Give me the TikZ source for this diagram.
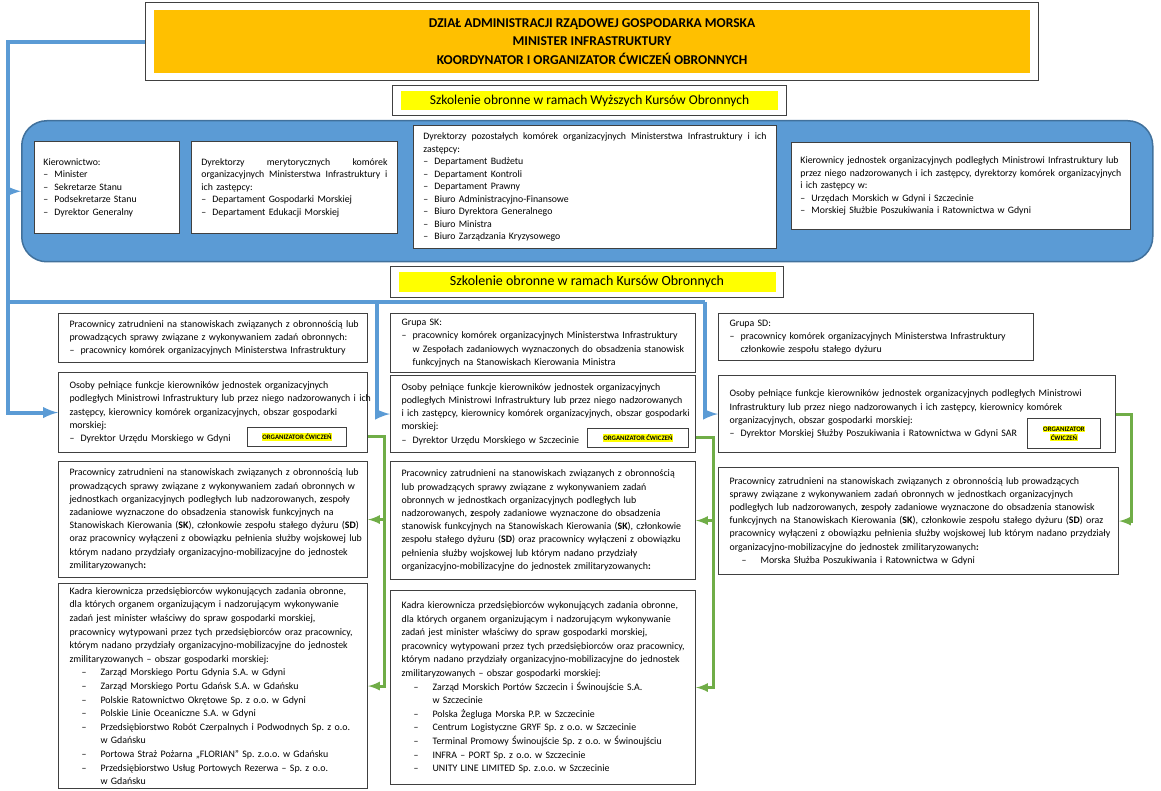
\documentclass[tikz,border=0pt]{standalone}
\usepackage{fontspec}
\setmainfont{Carlito}
\definecolor{orangefill}{HTML}{FFC000}
\definecolor{bluefill}{HTML}{5B9BD5}
\definecolor{blueedge}{HTML}{41719C}
\definecolor{greenline}{HTML}{70AD47}
\definecolor{boxedge}{HTML}{404040}
\definecolor{marker}{HTML}{FFFF00}
\newcommand\lidash{\makebox[11pt][l]{–}}
\newcommand\kdash{\hspace*{12pt}\makebox[19pt][l]{–}}
\newcommand\jline[1]{\makebox[\linewidth][s]{\spaceskip=0.23em plus 1fil\relax #1}}
\newcommand\orgmark[1]{{\setlength\fboxsep{0.7pt}\colorbox{marker}{#1}}}
\frenchspacing
\begin{document}
\begin{tikzpicture}[x=1pt, y=-1pt,
    text box/.style={draw=boxedge, line width=1.1pt, fill=white, anchor=north west, align=left, inner xsep=11pt, inner ysep=0pt, font=\fontsize{9.9}{13.2}\selectfont, execute at begin node={\rightskip=-24pt plus 1fil\relax}},
    blue text/.style={text box, line width=0.9pt, font=\fontsize{9.8}{12.5}\selectfont},
    frame box/.style={draw=boxedge, line width=1.1pt, fill=white, anchor=north west, inner sep=0pt},
    org box/.style={draw=boxedge, line width=0.9pt, fill=white, anchor=north west, inner sep=0pt, align=center, font=\fontsize{6.8}{9}\selectfont\bfseries},
    blue line/.style={draw=bluefill, line width=4pt},
    green line/.style={draw=greenline, line width=3pt}]
    \useasboundingbox (0,0) rectangle (1161,791);
    \node[frame box, minimum width=893pt, minimum height=78pt] (1) at (145,2) {};
    \node[fill=orangefill, minimum width=876pt, minimum height=63pt, inner sep=0pt, align=center, font=\fontsize{13.5}{18.5}\selectfont\bfseries] (2) at (1.center) {DZIAŁ ADMINISTRACJI RZĄDOWEJ GOSPODARKA MORSKA\\ MINISTER INFRASTRUKTURY\\ KOORDYNATOR I ORGANIZATOR ĆWICZEŃ OBRONNYCH};
    \node[frame box, minimum width=394pt, minimum height=30pt] (3) at (392,85) {};
    \node[fill=marker, minimum width=377pt, minimum height=19pt, inner sep=0pt, font=\fontsize{13.5}{16}\selectfont] (4) at (3.center) {Szkolenie obronne w ramach Wyższych Kursów Obronnych};
    \node[draw=blueedge, line width=1.5pt, fill=bluefill, rounded corners=25pt, anchor=north west, minimum width=1131pt, minimum height=141pt] (5) at (21,120) {};
    \node[blue text, inner xsep=9pt, text width=127pt, minimum height=92pt] (6) at (34,141) {Kierownictwo:\\ \lidash Minister\\ \lidash Sekretarze Stanu\\ \lidash Podsekretarze Stanu\\ \lidash Dyrektor Generalny};
    \node[blue text, inner xsep=10pt, text width=186pt, minimum height=92pt] (7) at (191,141) {\jline{Dyrektorzy merytorycznych komórek}\\ \jline{organizacyjnych Ministerstwa Infrastruktury i}\\ ich zastępcy:\\ \lidash Departament Gospodarki Morskiej\\ \lidash Departament Edukacji Morskiej};
    \node[blue text, inner xsep=10pt, text width=343pt, minimum height=123pt] (8) at (413,125) {\jline{Dyrektorzy pozostałych komórek organizacyjnych Ministerstwa Infrastruktury i ich}\\ zastępcy:\\ \lidash Departament Budżetu\\ \lidash Departament Kontroli\\ \lidash Departament Prawny\\ \lidash Biuro Administracyjno-Finansowe\\ \lidash Biuro Dyrektora Generalnego\\ \lidash Biuro Ministra\\ \lidash Biuro Zarządzania Kryzysowego};
    \node[blue text, inner xsep=9pt, text width=321pt, minimum height=87pt] (9) at (791,142) {Kierownicy jednostek organizacyjnych podległych Ministrowi Infrastruktury lub\\ przez niego nadzorowanych i ich zastępcy, dyrektorzy komórek organizacyjnych\\ i ich zastępcy w:\\ \lidash Urzędach Morskich w Gdyni i Szczecinie\\ \lidash Morskiej Służbie Poszukiwania i Ratownictwa w Gdyni};
    \node[frame box, minimum width=393pt, minimum height=31pt] (10) at (390,266) {};
    \node[fill=marker, minimum width=377pt, minimum height=20pt, inner sep=0pt, font=\fontsize{14}{16}\selectfont] (11) at (10.center) {Szkolenie obronne w ramach Kursów Obronnych};
    \node[text box, text width=287pt, minimum height=49pt] (12) at (58,313) {Pracownicy zatrudnieni na stanowiskach związanych z obronnością lub\\ prowadzących sprawy związane z wykonywaniem zadań obronnych:\\ \lidash pracownicy komórek organizacyjnych Ministerstwa Infrastruktury};
    \node[text box, text width=287pt, minimum height=80pt] (13) at (58,372) {Osoby pełniące funkcje kierowników jednostek organizacyjnych\\ podległych Ministrowi Infrastruktury lub przez niego nadzorowanych i ich\\ zastępcy, kierownicy komórek organizacyjnych, obszar gospodarki\\ morskiej:\\ \lidash Dyrektor Urzędu Morskiego w Gdyni};
    \node[org box, minimum width=99pt, minimum height=19pt] (14) at (247,427) {\orgmark{ORGANIZATOR ĆWICZEŃ}};
    \node[text box, text width=287pt, minimum height=116pt] (15) at (58,461) {Pracownicy zatrudnieni na stanowiskach związanych z obronnością lub\\ prowadzących sprawy związane z wykonywaniem zadań obronnych w\\ jednostkach organizacyjnych podległych lub nadzorowanych, \textbf{z}espoły\\ zadaniowe wyznaczone do obsadzenia stanowisk funkcyjnych na\\ Stanowiskach Kierowania (\textbf{SK}), członkowie zespołu stałego dyżuru (\textbf{SD})\\ oraz pracownicy wyłączeni z obowiązku pełnienia służby wojskowej lub\\ którym nadano przydziały organizacyjno-mobilizacyjne do jednostek\\ zmilitaryzowanych\textbf{:}};
    \node[text box, text width=287pt, minimum height=205pt, font=\fontsize{9.9}{13.6}\selectfont] (16) at (58,583) {Kadra kierownicza przedsiębiorców wykonujących zadania obronne,\\ dla których organem organizującym i nadzorującym wykonywanie\\ zadań jest minister właściwy do spraw gospodarki morskiej,\\ pracownicy wytypowani przez tych przedsiębiorców oraz pracownicy,\\ którym nadano przydziały organizacyjno-mobilizacyjne do jednostek\\ zmilitaryzowanych – obszar gospodarki morskiej:\\ \kdash Zarząd Morskiego Portu Gdynia S.A. w Gdyni\\ \kdash Zarząd Morskiego Portu Gdańsk S.A. w Gdańsku\\ \kdash Polskie Ratownictwo Okrętowe Sp. z o.o. w Gdyni\\ \kdash Polskie Linie Oceaniczne S.A. w Gdyni\\ \kdash Przedsiębiorstwo Robót Czerpalnych i Podwodnych Sp. z o.o.\\ \hspace*{31pt}w Gdańsku\\ \kdash Portowa Straż Pożarna „FLORIAN” Sp. z.o.o. w Gdańsku\\ \kdash Przedsiębiorstwo Usług Portowych Rezerwa – Sp. z o.o.\\ \hspace*{31pt}w Gdańsku};
    \node[text box, text width=283pt, minimum height=59pt] (17) at (390,313) {Grupa SK:\\ \lidash pracownicy komórek organizacyjnych Ministerstwa Infrastruktury\\ \hspace*{11pt}w Zespołach zadaniowych wyznaczonych do obsadzenia stanowisk\\ \hspace*{11pt}funkcyjnych na Stanowiskach Kierowania Ministra};
    \node[text box, text width=283pt, minimum height=77pt] (18) at (390,375) {Osoby pełniące funkcje kierowników jednostek organizacyjnych\\ podległych Ministrowi Infrastruktury lub przez niego nadzorowanych\\ i ich zastępcy, kierownicy komórek organizacyjnych, obszar gospodarki\\ morskiej:\\ \lidash Dyrektor Urzędu Morskiego w Szczecinie};
    \node[org box, minimum width=101pt, minimum height=19pt] (19) at (587,428) {\orgmark{ORGANIZATOR ĆWICZEŃ}};
    \node[text box, text width=283pt, minimum height=118pt] (20) at (390,461) {Pracownicy zatrudnieni na stanowiskach związanych z obronnością\\ lub prowadzących sprawy związane z wykonywaniem zadań\\ obronnych w jednostkach organizacyjnych podległych lub\\ nadzorowanych, \textbf{z}espoły zadaniowe wyznaczone do obsadzenia\\ stanowisk funkcyjnych na Stanowiskach Kierowania (\textbf{SK}), członkowie\\ zespołu stałego dyżuru (\textbf{SD}) oraz pracownicy wyłączeni z obowiązku\\ pełnienia służby wojskowej lub którym nadano przydziały\\ organizacyjno-mobilizacyjne do jednostek zmilitaryzowanych\textbf{:}};
    \node[text box, text width=283pt, minimum height=194pt, font=\fontsize{9.9}{13.6}\selectfont] (21) at (390,590) {Kadra kierownicza przedsiębiorców wykonujących zadania obronne,\\ dla których organem organizującym i nadzorującym wykonywanie\\ zadań jest minister właściwy do spraw gospodarki morskiej,\\ pracownicy wytypowani przez tych przedsiębiorców oraz pracownicy,\\ którym nadano przydziały organizacyjno-mobilizacyjne do jednostek\\ zmilitaryzowanych – obszar gospodarki morskiej:\\ \kdash Zarząd Morskich Portów Szczecin i Świnoujście S.A.\\ \hspace*{31pt}w Szczecinie\\ \kdash Polska Żegluga Morska P.P. w Szczecinie\\ \kdash Centrum Logistyczne GRYF Sp. z o.o. w Szczecinie\\ \kdash Terminal Promowy Świnoujście Sp. z o.o. w Świnoujściu\\ \kdash INFRA – PORT Sp. z o.o. w Szczecinie\\ \kdash UNITY LINE LIMITED Sp. z.o.o. w Szczecinie};
    \node[text box, text width=293pt, minimum height=47pt] (22) at (718,313) {Grupa SD:\\ \lidash pracownicy komórek organizacyjnych Ministerstwa Infrastruktury\\ \hspace*{11pt}członkowie zespołu stałego dyżuru};
    \node[text box, text width=375pt, minimum height=77pt] (23) at (718,375) {Osoby pełniące funkcje kierowników jednostek organizacyjnych podległych Ministrowi\\ Infrastruktury lub przez niego nadzorowanych i ich zastępcy, kierownicy komórek\\ organizacyjnych, obszar gospodarki morskiej:\\ \lidash Dyrektor Morskiej Służby Poszukiwania i Ratownictwa w Gdyni SAR};
    \node[org box, minimum width=73pt, minimum height=30pt] (24) at (1027,418) {\orgmark{ORGANIZATOR}\\ \orgmark{ĆWICZEŃ}};
    \node[text box, text width=378pt, minimum height=107pt] (25) at (718,467) {Pracownicy zatrudnieni na stanowiskach związanych z obronnością lub prowadzących\\ sprawy związane z wykonywaniem zadań obronnych w jednostkach organizacyjnych\\ podległych lub nadzorowanych, \textbf{z}espoły zadaniowe wyznaczone do obsadzenia stanowisk\\ funkcyjnych na Stanowiskach Kierowania (\textbf{SK}), członkowie zespołu stałego dyżuru (\textbf{SD}) oraz\\ pracownicy wyłączeni z obowiązku pełnienia służby wojskowej lub którym nadano przydziały\\ organizacyjno-mobilizacyjne do jednostek zmilitaryzowanych\textbf{:}\\ \kdash Morska Służba Poszukiwania i Ratownictwa w Gdyni};
    \coordinate (t) at (8,302);
    \coordinate (m) at (377,302);
    \coordinate (r) at (705,302);
    \draw[blue line] (1.west) -| (t) -- (r);
    \draw[blue line, -latex] (t |- 5.west) -- (5.west);
    \draw[blue line, -latex] (t) |- (13.west);
    \draw[blue line, -latex] (m) |- (18.west);
    \draw[blue line, -latex] (r) |- (23.west);
    \draw[green line, -latex] (13.east |- 14.east) -- ++(16,0) |- (16.east);
    \draw[green line, -latex] (13.east |- 14.east) ++(16,0) |- (15.east);
    \draw[green line, -latex] (18.east |- 19.east) -- ++(17,0) |- (21.east);
    \draw[green line, -latex] (18.east |- 19.east) ++(17,0) |- (20.east);
    \draw[green line, -latex] (23.east) -- ++(15,0) |- (25.east);
\end{tikzpicture}
\end{document}
